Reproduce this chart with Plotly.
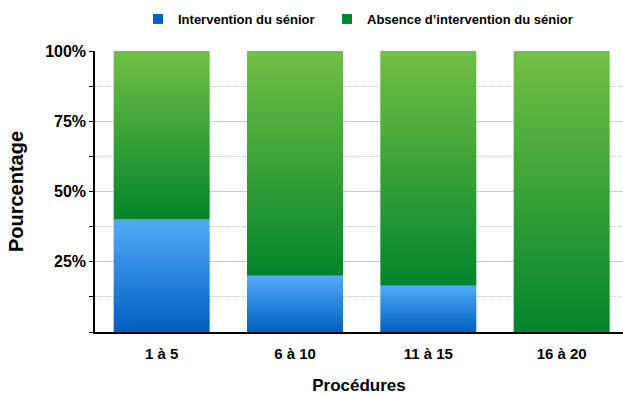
import plotly.graph_objects as go

# Share of procedures with / without senior intervention, by procedure rank
categories = ["1 à 5", "6 à 10", "11 à 15", "16 à 20"]
intervention = [40, 20, 16.5, 0]
absence = [60, 80, 83.5, 100]
series_names = ["Intervention du sénior", "Absence d\u2019intervention du sénior"]
y_ticks = [0, 25, 50, 75, 100]
y_tick_labels = ["", "25%", "50%", "75%", "100%"]

BLUE = ("#0060c0", "#52aaf9")   # bottom, top
GREEN = ("#02852b", "#72bf44")
HALF = 0.36

fig = go.Figure()


def add_segment(i, base, height, colors, group):
    if height <= 0:
        return
    x0, x1 = i - HALF, i + HALF
    top = base + height
    fig.add_trace(go.Scatter(
        x=[x0, x1, x1, x0, x0],
        y=[base, base, top, top, base],
        mode="lines",
        line=dict(width=0, color=colors[0]),
        fill="toself",
        fillgradient=dict(type="vertical",
                          colorscale=[[0, colors[0]], [1, colors[1]]]),
        legendgroup=group,
        showlegend=False,
        hoverinfo="skip",
    ))


for i in range(len(categories)):
    add_segment(i, 0, intervention[i], BLUE, "a")
    add_segment(i, intervention[i], absence[i], GREEN, "b")

# legend entries, one legend box per series
for name, cols, grp, lg in [(series_names[0], BLUE, "a", "legend"),
                            (series_names[1], GREEN, "b", "legend2")]:
    fig.add_trace(go.Scatter(
        x=[None], y=[None], mode="markers", name=name, legendgroup=grp,
        legend=lg,
        marker=dict(symbol="square", size=10, color=cols[0]),
    ))

FONT = "Liberation Sans, Arial, sans-serif"
legend_common = dict(
    orientation="h", xref="container", yref="container",
    xanchor="left", y=1 - 19 / 395, yanchor="middle",
    font=dict(size=13, family=FONT, weight="bold"),
    bgcolor="rgba(0,0,0,0)",
)

fig.update_layout(
    width=623, height=395,
    margin=dict(l=95, r=0, t=51, b=63),
    paper_bgcolor="white", plot_bgcolor="white",
    font=dict(family=FONT, color="black"),
    showlegend=True,
    legend=dict(x=138 / 623, **legend_common),
    legend2=dict(x=327 / 623, **legend_common),
    xaxis=dict(
        range=[-0.5, 3.46],
        tickvals=list(range(len(categories))), ticktext=categories,
        tickfont=dict(size=15, weight="bold"),
        showgrid=False, zeroline=False,
        showline=True, linecolor="black", linewidth=1.5,
        ticks="", ticklabelstandoff=7,
        title=dict(text="Procédures", font=dict(size=17, weight="bold"), standoff=22),
        fixedrange=True,
    ),
    yaxis=dict(
        range=[0, 100],
        tickvals=y_ticks, ticktext=y_tick_labels,
        tickfont=dict(size=16, weight="bold"),
        showgrid=True, gridcolor="#c8c8c8", gridwidth=1,
        zeroline=False,
        showline=True, linecolor="black", linewidth=1.5,
        ticks="outside", ticklen=4, tickcolor="black", tickwidth=1,
        minor=dict(dtick=12.5, tick0=0, showgrid=True, gridcolor="#c4c4c4",
                   griddash="1px,1px", gridwidth=1, ticks="outside", ticklen=4,
                   tickcolor="black", tickwidth=1),
        title=dict(text="Pourcentage", font=dict(size=20, weight="bold"), standoff=16),
        fixedrange=True,
    ),
)

fig.write_html("out.html")
